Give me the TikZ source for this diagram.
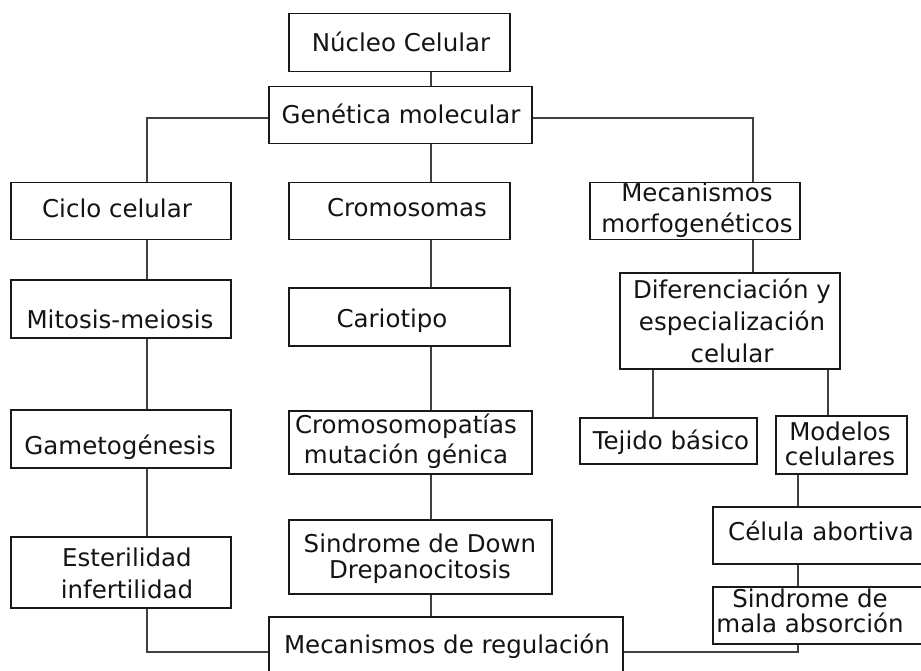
\documentclass[tikz,border=0pt]{standalone}
\usepackage{fontspec}
\setmainfont{DejaVu Sans}
\begin{document}
\begin{tikzpicture}[x=1pt,y=-1pt,
  box/.style={draw=black!90, line width=1.5pt, fill=white, inner sep=0pt, anchor=north west},
  txt/.style={anchor=base, inner sep=0pt, text=black!92, font=\fontsize{24.5}{30}\selectfont},
  link/.style={draw=black!75, line width=1.8pt}]
\useasboundingbox (0,0) rectangle (921,671);
\clip (0,0) rectangle (921,671);
\fill[white] (0,0) rectangle (921,671);
% boxes
\node[box, minimum width=221pt, minimum height=58pt] (nuc) at (288,13) {};
\node[box, minimum width=263pt, minimum height=57pt] (gen) at (268,86) {};
\node[box, minimum width=220pt, minimum height=57pt] (cc) at (10,182) {};
\node[box, minimum width=221pt, minimum height=57pt] (crom) at (288,182) {};
\node[box, minimum width=210pt, minimum height=57pt] (mecm) at (589,182) {};
\node[box, minimum width=220pt, minimum height=58pt] (mit) at (10,279) {};
\node[box, minimum width=221pt, minimum height=58pt] (car) at (288,287) {};
\node[box, minimum width=220pt, minimum height=96pt] (dif) at (619,272) {};
\node[box, minimum width=220pt, minimum height=58pt] (game) at (10,409) {};
\node[box, minimum width=243pt, minimum height=63pt] (cromp) at (288,410) {};
\node[box, minimum width=177pt, minimum height=46pt] (tej) at (579,417) {};
\node[box, minimum width=131pt, minimum height=58pt] (mod) at (775,415) {};
\node[box, minimum width=220pt, minimum height=71pt] (este) at (10,536) {};
\node[box, minimum width=263pt, minimum height=74pt] (sdown) at (288,519) {};
\node[box, minimum width=223pt, minimum height=57pt] (cel) at (712,506) {};
\node[box, minimum width=223pt, minimum height=57pt] (sma) at (712,586) {};
\node[box, minimum width=354pt, minimum height=74pt] (mreg) at (268,616) {};
% connectors
\path[link] (nuc.south -| 431,0) -- (gen.north -| 431,0);
\path[link] (gen.west |- 0,118) -| (cc.north -| 147,0);
\path[link] (gen.south -| 431,0) -- (crom.north -| 431,0);
\path[link] (gen.east |- 0,118) -| (mecm.north -| 753,0);
\path[link] (cc.south -| 147,0) -- (mit.north -| 147,0);
\path[link] (mit.south -| 147,0) -- (game.north -| 147,0);
\path[link] (game.south -| 147,0) -- (este.north -| 147,0);
\path[link] (este.south -| 147,0) |- (mreg.west |- 0,652);
\path[link] (crom.south -| 431,0) -- (car.north -| 431,0);
\path[link] (car.south -| 431,0) -- (cromp.north -| 431,0);
\path[link] (cromp.south -| 431,0) -- (sdown.north -| 431,0);
\path[link] (sdown.south -| 431,0) -- (mreg.north -| 431,0);
\path[link] (mecm.south -| 753,0) -- (dif.north -| 753,0);
\path[link] (dif.south -| 653,0) -- (tej.north -| 653,0);
\path[link] (dif.south -| 828,0) -- (mod.north -| 828,0);
\path[link] (mod.south -| 798,0) -- (cel.north -| 798,0);
\path[link] (cel.south -| 798,0) -- (sma.north -| 798,0);
\path[link] (mreg.east |- 0,652) -| (sma.south -| 798,0);
% texts
\node[txt] (t-nuc) at (401,52) {Núcleo Celular};
\node[txt] (t-gen) at (401,124) {Genética molecular};
\node[txt] (t-cc) at (117,218) {Ciclo celular};
\node[txt] (t-crom) at (407,217) {Cromosomas};
\node[txt] (t-mecm1) at (697,202) {Mecanismos};
\node[txt] (t-mecm2) at (697,233) {morfogenéticos};
\node[txt] (t-mit) at (120,328) {Mitosis-meiosis};
\node[txt] (t-car) at (392,327) {Cariotipo};
\node[txt] (t-dif1) at (732,298) {Diferenciación y};
\node[txt] (t-dif2) at (732,330) {especialización};
\node[txt] (t-dif3) at (732,362) {celular};
\node[txt] (t-game) at (120,454) {Gametogénesis};
\node[txt] (t-cromp1) at (406,433) {Cromosomopatías};
\node[txt] (t-cromp2) at (406,463) {mutación génica};
\node[txt] (t-tej) at (671,449) {Tejido básico};
\node[txt] (t-mod1) at (840,440) {Modelos};
\node[txt] (t-mod2) at (840,465) {celulares};
\node[txt] (t-sdown1) at (420,552) {Sindrome de Down};
\node[txt] (t-sdown2) at (420,578) {Drepanocitosis};
\node[txt] (t-este1) at (127,566) {Esterilidad};
\node[txt] (t-este2) at (127,598) {infertilidad};
\node[txt] (t-cel) at (821,540) {Célula abortiva};
\node[txt] (t-sma1) at (810,607) {Sindrome de};
\node[txt] (t-sma2) at (810,632) {mala absorción};
\node[txt] (t-mreg) at (447,653) {Mecanismos de regulación};
\end{tikzpicture}
\end{document}
